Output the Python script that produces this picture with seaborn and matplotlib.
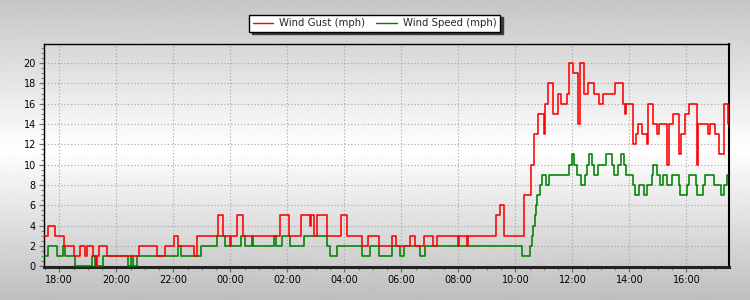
import numpy as np
import pandas as pd
import matplotlib
matplotlib.use("Agg")
import matplotlib.pyplot as plt
import matplotlib.dates as mdates
from matplotlib.lines import Line2D
from matplotlib.ticker import MultipleLocator
import seaborn as sns

# ---------------- data (change points) ----------------
gust_times = [
    "17:28", "17:37", "17:52", "18:11", "18:31", "18:43", "18:55", "18:59", "19:10", "19:17",
    "19:19", "19:24", "19:41", "20:48", "21:26", "21:42", "22:01", "22:10", "22:44", "22:49",
    "23:35", "23:45", "23:59", "00:01", "00:15", "00:26", "01:45", "02:03", "02:28", "02:48",
    "02:50", "02:56", "03:02", "03:23", "03:53", "04:06", "04:37", "04:50", "05:12", "05:40",
    "05:49", "06:18", "06:28", "06:48", "07:07", "07:14", "08:00", "08:02", "08:19", "08:21",
    "09:20", "09:27", "09:37", "10:19", "10:32", "10:39", "10:48", "11:00", "11:02", "11:09",
    "11:20", "11:29", "11:36", "11:49", "11:52", "12:02", "12:12", "12:15", "12:24", "12:32",
    "12:46", "12:55", "13:05", "13:29", "13:47", "13:51", "13:53", "14:07", "14:14", "14:17",
    "14:27", "14:36", "14:39", "14:50", "14:59", "15:03", "15:19", "15:23", "15:32", "15:45",
    "15:48", "15:57", "16:05", "16:23", "16:25", "16:46", "16:49", "17:00", "17:09", "17:18",
    "17:27", "17:28",
]
gust_mph = [
    3, 4, 3, 2, 1, 2, 1, 2, 1, 0,
    1, 2, 1, 2, 1, 2, 3, 2, 1, 3,
    5, 3, 2, 3, 5, 3, 5, 3, 5, 4,
    5, 3, 5, 3, 5, 3, 2, 3, 2, 3,
    2, 3, 2, 3, 2, 3, 2, 3, 2, 3,
    5, 6, 3, 7, 10, 13, 15, 13, 16, 18,
    15, 17, 16, 17, 20, 19, 14, 20, 17, 18,
    17, 16, 17, 18, 16, 15, 16, 12, 13, 14,
    13, 12, 16, 14, 13, 14, 10, 14, 15, 11,
    13, 15, 16, 10, 14, 13, 14, 13, 11, 16,
    15, 14,
]

speed_times = [
    "17:28", "17:37", "17:55", "18:07", "18:12", "18:34", "19:08", "19:16", "19:32", "20:25",
    "20:32", "20:36", "20:43", "22:10", "22:16", "22:58", "23:31", "23:49", "00:22", "00:30",
    "00:45", "00:48", "01:32", "01:37", "01:48", "02:06", "02:35", "03:24", "03:30", "03:44",
    "04:37", "04:55", "05:13", "05:40", "05:57", "06:06", "06:40", "06:50", "10:14", "10:30",
    "10:34", "10:38", "10:41", "10:44", "10:46", "10:52", "10:57", "11:04", "11:11", "11:52",
    "12:00", "12:04", "12:10", "12:18", "12:27", "12:30", "12:34", "12:41", "12:46", "12:53",
    "13:11", "13:23", "13:28", "13:35", "13:42", "13:49", "13:53", "14:08", "14:12", "14:20",
    "14:31", "14:38", "14:47", "14:50", "14:59", "15:04", "15:10", "15:20", "15:30", "15:45",
    "15:47", "16:02", "16:05", "16:20", "16:22", "16:34", "16:38", "16:59", "17:13", "17:20",
    "17:26", "17:28",
]
speed_mph = [
    1, 2, 1, 2, 1, 0, 1, 0, 1, 0,
    1, 0, 1, 2, 1, 2, 3, 2, 3, 2,
    3, 2, 3, 2, 3, 2, 3, 2, 1, 2,
    1, 2, 1, 2, 1, 2, 1, 2, 1, 2,
    3, 4, 5, 6, 7, 8, 9, 8, 9, 10,
    11, 10, 9, 8, 9, 10, 11, 10, 9, 10,
    11, 10, 9, 10, 11, 10, 9, 8, 7, 8,
    7, 8, 9, 10, 9, 8, 9, 8, 9, 8,
    7, 8, 9, 8, 7, 8, 9, 8, 7, 8,
    9, 9,
]

series_labels = ["Wind Gust (mph)", "Wind Speed (mph)"]
y_ticks = [0, 2, 4, 6, 8, 10, 12, 14, 16, 18, 20]
x_start, x_end = "2024-01-01 17:28:30", "2024-01-02 17:28:30"


def to_datetimes(times, start_date="2024-01-01"):
    out, day, prev = [], 0, None
    for t in times:
        h, m = map(int, t.split(":"))
        mins = h * 60 + m
        if prev is not None and mins < prev:
            day += 1
        prev = mins
        out.append(pd.Timestamp(start_date) + pd.Timedelta(days=day, minutes=mins))
    return out


gust_df = pd.DataFrame({"time": to_datetimes(gust_times), "mph": gust_mph})
speed_df = pd.DataFrame({"time": to_datetimes(speed_times), "mph": speed_mph})

# ---------------- style ----------------
sns.set_style("ticks")
plt.rcParams["font.family"] = ["DejaVu Sans"]

GUST = "#ff0000"
SPEED = "#008000"

fig = plt.figure(figsize=(7.5, 3.0), dpi=100)

# vertical gradient background for the whole figure
bg = fig.add_axes([0, 0, 1, 1], zorder=-10)
rows = np.arange(300)
vals = np.where(rows < 150, 198 + (255 - 198) * rows / 150.0,
                255 - (255 - 190) * (rows - 150) / 150.0)
bg.imshow(vals[:, None], aspect="auto", cmap="gray", vmin=0, vmax=255,
          extent=[0, 1, 0, 1], interpolation="bilinear")
bg.set_axis_off()

W, H = 750.0, 300.0
left, right, top, bottom = 44.3, 728.5, 44.3, 267.0
ax = fig.add_axes([left / W, 1 - bottom / H, (right - left) / W, (bottom - top) / H])
ax.patch.set_alpha(0)

sns.lineplot(data=speed_df, x="time", y="mph", color=SPEED, lw=1.15,
             drawstyle="steps-post", estimator=None, ax=ax, zorder=3)
sns.lineplot(data=gust_df, x="time", y="mph", color=GUST, lw=1.15,
             drawstyle="steps-post", estimator=None, ax=ax, zorder=4)

ax.set_xlim(pd.Timestamp(x_start), pd.Timestamp(x_end))
ax.set_ylim(-0.08, 21.85)
ax.set_xlabel("")
ax.set_ylabel("")

ax.set_yticks(y_ticks)
ax.yaxis.set_minor_locator(MultipleLocator(0.5))
ax.xaxis.set_major_locator(mdates.HourLocator(byhour=range(0, 24, 2)))
ax.xaxis.set_major_formatter(mdates.DateFormatter("%H:%M"))
ax.xaxis.set_minor_locator(mdates.MinuteLocator(byminute=[0, 30]))

ax.tick_params(axis="both", which="major", length=3.5, width=0.9, color="#707070",
               labelsize=7, labelcolor="black", pad=2.5, direction="out")
ax.tick_params(axis="both", which="minor", length=2.0, width=0.8, color="#808080",
               direction="out")

ax.grid(True, which="major", color="#a4a4a4", lw=0.8, linestyle=(0, (1, 2)))
ax.set_axisbelow(True)

for side in ["top", "left"]:
    ax.spines[side].set_color("black")
    ax.spines[side].set_linewidth(1.0)
ax.spines["right"].set_color("black")
ax.spines["right"].set_linewidth(1.5)
ax.spines["bottom"].set_color("#222222")
ax.spines["bottom"].set_linewidth(2.2)

handles = [Line2D([], [], color=GUST, lw=1.0), Line2D([], [], color=SPEED, lw=1.0)]
leg = fig.legend(handles=handles, labels=series_labels, loc="center",
                 bbox_to_anchor=(0.4996, 0.923), ncol=2, frameon=True, fancybox=False,
                 shadow={"color": "#3a3a3a", "alpha": 1.0}, edgecolor="black",
                 facecolor="white", framealpha=1.0, fontsize=7.3, handlelength=2.0,
                 handletextpad=0.6, columnspacing=1.1, borderpad=0.35)
leg.get_frame().set_linewidth(1.0)

fig.savefig("out.png", dpi=100)
